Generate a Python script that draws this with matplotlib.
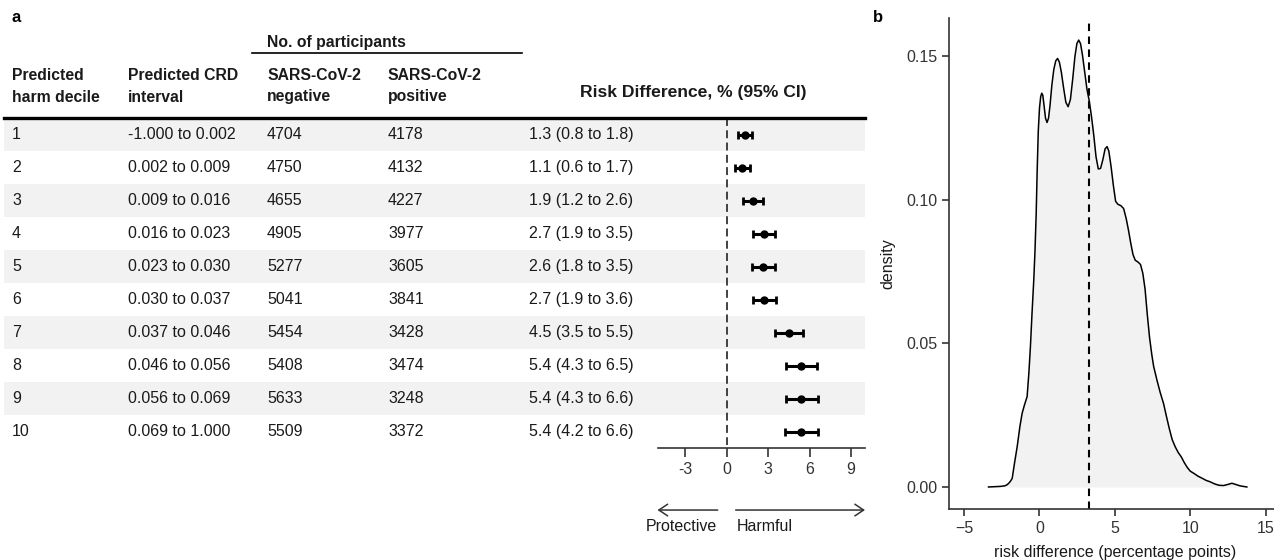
import matplotlib.pyplot as plt
from matplotlib import transforms
from matplotlib.lines import Line2D
from matplotlib.patches import Rectangle

plt.rcParams['font.family'] = ['Liberation Sans', 'DejaVu Sans']

# panel a: table + forest plot
deciles = ['1', '2', '3', '4', '5', '6', '7', '8', '9', '10']
crd_intervals = ['-1.000 to 0.002', '0.002 to 0.009', '0.009 to 0.016', '0.016 to 0.023',
                 '0.023 to 0.030', '0.030 to 0.037', '0.037 to 0.046', '0.046 to 0.056',
                 '0.056 to 0.069', '0.069 to 1.000']
n_negative = [4704, 4750, 4655, 4905, 5277, 5041, 5454, 5408, 5633, 5509]
n_positive = [4178, 4132, 4227, 3977, 3605, 3841, 3428, 3474, 3248, 3372]
rd = [1.3, 1.1, 1.9, 2.7, 2.6, 2.7, 4.5, 5.4, 5.4, 5.4]
rd_low = [0.8, 0.6, 1.2, 1.9, 1.8, 1.9, 3.5, 4.3, 4.3, 4.2]
rd_high = [1.8, 1.7, 2.6, 3.5, 3.5, 3.6, 5.5, 6.5, 6.6, 6.6]
forest_ticks = [-3, 0, 3, 6, 9]

# panel b: density of predicted risk difference
dens_x = [-3.38, -3.0, -2.6, -2.3, -2.14, -2.0, -1.9, -1.81, -1.65, -1.48, -1.3, -1.15,
          -1.0, -0.82, -0.7, -0.6, -0.5, -0.38, -0.3, -0.22, -0.15, -0.08, 0.0, 0.08,
          0.15, 0.22, 0.3, 0.4, 0.5, 0.6, 0.7, 0.82, 0.95, 1.08, 1.2, 1.32, 1.45, 1.6,
          1.75, 1.9, 2.05, 2.2, 2.35, 2.48, 2.6, 2.72, 2.85, 3.0, 3.15, 3.3, 3.45, 3.6,
          3.75, 3.9, 4.05, 4.2, 4.35, 4.48, 4.6, 4.75, 4.9, 5.05, 5.2, 5.4, 5.58, 5.75,
          5.9, 6.05, 6.2, 6.35, 6.55, 6.7, 6.85, 7.0, 7.15, 7.3, 7.45, 7.57, 7.8, 8.0,
          8.23, 8.4, 8.6, 8.8, 9.0, 9.2, 9.4, 9.6, 9.8, 10.0, 10.22, 10.5, 10.8, 11.05,
          11.32, 11.6, 11.9, 12.2, 12.5, 12.76, 13.0, 13.3, 13.75]
dens_y = [0.0, 0.0001, 0.0002, 0.0004, 0.0008, 0.0015, 0.0022, 0.003, 0.0085, 0.014, 0.021,
          0.0257, 0.0285, 0.0315, 0.040, 0.049, 0.060, 0.072, 0.082, 0.095, 0.111, 0.124,
          0.132, 0.136, 0.1372, 0.1365, 0.133, 0.1285, 0.127, 0.1285, 0.133, 0.140, 0.1455,
          0.1485, 0.1493, 0.148, 0.1445, 0.139, 0.134, 0.1325, 0.135, 0.142, 0.150, 0.1545,
          0.1557, 0.1545, 0.1505, 0.1445, 0.1385, 0.1345, 0.129, 0.1225, 0.115, 0.1108,
          0.111, 0.114, 0.1178, 0.1186, 0.117, 0.1115, 0.105, 0.0995, 0.0985, 0.098, 0.097,
          0.0935, 0.0895, 0.085, 0.081, 0.079, 0.0783, 0.0775, 0.0745, 0.069, 0.060, 0.052,
          0.046, 0.042, 0.037, 0.033, 0.029, 0.025, 0.0205, 0.0165, 0.014, 0.012, 0.0105,
          0.0085, 0.0068, 0.0055, 0.0048, 0.0038, 0.003, 0.0023, 0.0018, 0.0011, 0.0006,
          0.0005, 0.0009, 0.0013, 0.0009, 0.0004, 0.0]
mean_rd = 3.3

W, H = 1274, 560
TXT = '#1a1a1a'
fig = plt.figure(figsize=(W / 100, H / 100), dpi=100)


def fx(px):
    return px / W


def fy(py):
    return 1 - py / H


rows = list(range(1, 11))

ax_f = fig.add_axes([fx(657.5), fy(448), (865 - 657.5) / W, 330 / H])
ax_f.set_xlim(-5, 10)
ax_f.set_ylim(10.5, 0.5)
ax_f.patch.set_alpha(0)
trans = transforms.blended_transform_factory(fig.transFigure, ax_f.transData)

# striped rows
for r in rows:
    if r % 2 == 1:
        ax_f.add_patch(Rectangle((fx(4), r - 0.5), fx(865) - fx(4), 1, transform=trans,
                                 facecolor='#f2f2f2', edgecolor='none', clip_on=False, zorder=0))

cols = [12, 128, 267, 388, 529]
for i, r in enumerate(rows):
    cells = [deciles[i], crd_intervals[i], str(n_negative[i]), str(n_positive[i]),
             f'{rd[i]:.1f} ({rd_low[i]:.1f} to {rd_high[i]:.1f})']
    for c, s in zip(cols, cells):
        ax_f.text(fx(c), r, s, transform=trans, ha='left', va='center', fontsize=11.5, color=TXT)

xerr = [[m - lo for m, lo in zip(rd, rd_low)], [hi - m for m, hi in zip(rd, rd_high)]]
ax_f.plot([0, 0], [0.5, 10.4], ls=(0, (4.4, 2.4)), color='#333333', lw=1.3, zorder=2)
ax_f.errorbar(rd, rows, xerr=xerr, fmt='o', color='black', ms=5, elinewidth=2.2,
              capsize=2.6, capthick=2, zorder=3)

for side in ['top', 'right', 'left']:
    ax_f.spines[side].set_visible(False)
ax_f.spines['bottom'].set_linewidth(1.2)
ax_f.spines['bottom'].set_color('#333333')
ax_f.set_yticks([])
ax_f.set_xticks(forest_ticks)
ax_f.set_xticklabels([str(t) for t in forest_ticks])
ax_f.tick_params(axis='x', length=6.5, width=1.2, pad=3.5, labelsize=11.5,
                 color='#333333', labelcolor='#333333')

xt = ax_f.get_xaxis_transform()
arr = dict(arrowstyle='->, head_length=0.45, head_width=0.3', lw=1.1, color='#333333',
           shrinkA=0, shrinkB=0, mutation_scale=14)
ax_f.annotate('', xy=(-5, -0.188), xytext=(-0.65, -0.188), xycoords=xt, arrowprops=arr)
ax_f.annotate('', xy=(10, -0.188), xytext=(0.65, -0.188), xycoords=xt, arrowprops=arr)
ax_f.text(-0.72, -0.239, 'Protective', transform=xt, ha='right', va='center',
          fontsize=11.5, color=TXT)
ax_f.text(0.72, -0.239, 'Harmful', transform=xt, ha='left', va='center',
          fontsize=11.5, color=TXT)

# header
hdr = dict(fontsize=11.3, fontweight='bold', color=TXT, va='center', ha='left')
fig.text(fx(12), fy(76), 'Predicted', **hdr)
fig.text(fx(12), fy(97), 'harm decile', **hdr)
fig.text(fx(128), fy(76), 'Predicted CRD', **hdr)
fig.text(fx(128), fy(97), 'interval', **hdr)
fig.text(fx(267), fy(76), 'SARS-CoV-2', **hdr)
fig.text(fx(267), fy(97), 'negative', **hdr)
fig.text(fx(388), fy(76), 'SARS-CoV-2', **hdr)
fig.text(fx(388), fy(97), 'positive', **hdr)
fig.text(fx(267), fy(43), 'No. of participants', **hdr)
fig.text(fx(693), fy(92), 'Risk Difference, % (95% CI)', fontsize=12.6, fontweight='bold',
         color=TXT, va='center', ha='center')
fig.add_artist(Line2D([fx(252), fx(522)], [fy(53), fy(53)], lw=1.2, color='black',
                      transform=fig.transFigure))
fig.add_artist(Line2D([fx(4), fx(865)], [fy(118), fy(118)], lw=2.4, color='black',
                      transform=fig.transFigure))

fig.text(fx(12), fy(18), 'a', fontsize=12, fontweight='bold', va='center', ha='left')
fig.text(fx(873), fy(18), 'b', fontsize=12, fontweight='bold', va='center', ha='left')

# panel b
ax_d = fig.add_axes([fx(949), fy(509), (W - 949) / W, (509 - 18) / H])
ax_d.fill_between(dens_x, dens_y, 0, color='#f2f2f2', lw=0)
ax_d.plot(dens_x, dens_y, color='black', lw=1.1)
ax_d.axvline(mean_rd, ymax=0.99, ls=(0, (3.6, 2.6)), color='black', lw=1.5)
ax_d.set_xlim(-6, 15.55)
ax_d.set_ylim(-0.00767, 0.1634)
ax_d.set_xticks([-5, 0, 5, 10, 15])
ax_d.set_yticks([0, 0.05, 0.10, 0.15])
ax_d.set_yticklabels(['0.00', '0.05', '0.10', '0.15'])
for side in ['top', 'right']:
    ax_d.spines[side].set_visible(False)
for side in ['left', 'bottom']:
    ax_d.spines[side].set_linewidth(1.2)
    ax_d.spines[side].set_color('#333333')
ax_d.tick_params(length=5, width=1.2, pad=3.5, labelsize=11.5, color='#333333',
                 labelcolor='#333333')
ax_d.set_ylabel('density', fontsize=11.5, color=TXT)
ax_d.yaxis.set_label_coords(-0.188, 0.5)
ax_d.yaxis.label.set_va('center')
ax_d.set_xlabel('risk difference (percentage points)', fontsize=11.5, color=TXT)
ax_d.xaxis.set_label_coords(0.511, -0.0896)
ax_d.xaxis.label.set_va('center')

fig.savefig('out.png', dpi=100)
